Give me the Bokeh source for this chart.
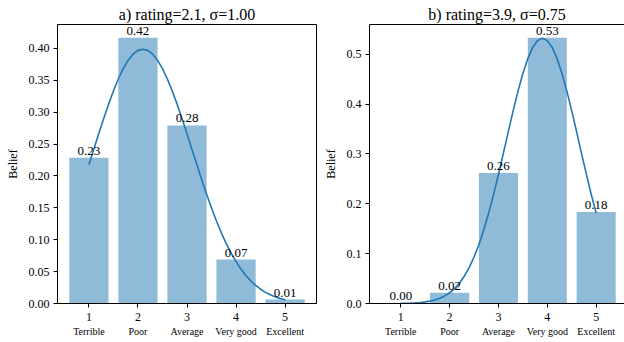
from bokeh.plotting import figure
from bokeh.layouts import row
from bokeh.models import LinearAxis, FixedTicker, PrintfTickFormatter, Range1d
from bokeh.core.properties import value
from bokeh.embed import file_html
from bokeh.resources import INLINE

# ---- data ----
ratings = [1, 2, 3, 4, 5]
rating_names = ["Terrible", "Poor", "Average", "Very good", "Excellent"]

title_a = "a) rating=2.1, \u03c3=1.00"
beliefs_a = [0.2287, 0.4168, 0.2793, 0.0689, 0.0062]

title_b = "b) rating=3.9, \u03c3=0.75"
beliefs_b = [0.0003, 0.0217, 0.2617, 0.5329, 0.1834]

curve_x = [1.0, 1.1, 1.2, 1.3, 1.4, 1.5, 1.6, 1.7, 1.8, 1.9,
           2.0, 2.1, 2.2, 2.3, 2.4, 2.5, 2.6, 2.7, 2.8, 2.9,
           3.0, 3.1, 3.2, 3.3, 3.4, 3.5, 3.6, 3.7, 3.8, 3.9,
           4.0, 4.1, 4.2, 4.3, 4.4, 4.5, 4.6, 4.7, 4.8, 4.9, 5.0]
curve_a = [0.2179, 0.2420, 0.2661, 0.2897, 0.3123, 0.3332, 0.3521, 0.3683, 0.3814, 0.3910,
           0.3970, 0.3989, 0.3970, 0.3910, 0.3814, 0.3683, 0.3521, 0.3332, 0.3123, 0.2897,
           0.2661, 0.2420, 0.2179, 0.1942, 0.1714, 0.1497, 0.1295, 0.1109, 0.0940, 0.0790,
           0.0656, 0.0540, 0.0440, 0.0355, 0.0283, 0.0224, 0.0175, 0.0136, 0.0104, 0.0079, 0.0060]
curve_b = [0.0003, 0.0005, 0.0008, 0.0013, 0.0021, 0.0032, 0.0048, 0.0072, 0.0106, 0.0152,
           0.0215, 0.0299, 0.0407, 0.0546, 0.0720, 0.0932, 0.1184, 0.1479, 0.1814, 0.2187,
           0.2589, 0.3011, 0.3441, 0.3863, 0.4259, 0.4614, 0.4910, 0.5133, 0.5272, 0.5319,
           0.5272, 0.5133, 0.4910, 0.4614, 0.4259, 0.3863, 0.3441, 0.3011, 0.2589, 0.2187, 0.1814]

yticks_a = [0.0, 0.05, 0.10, 0.15, 0.20, 0.25, 0.30, 0.35, 0.40]
yticks_b = [0.0, 0.1, 0.2, 0.3, 0.4, 0.5]

FONT = "Liberation Serif"
BAR = "#1f77b4"


def panel(title, vals, curve, y_end, yticks, fmt, w, bl, br, x_end, outline):
    p = figure(width=w, height=342,
               x_range=Range1d(0.36, x_end), y_range=Range1d(0, y_end),
               output_backend="svg", toolbar_location=None,
               min_border_left=bl, min_border_right=br,
               min_border_top=24, min_border_bottom=39)
    p.title.text = title
    p.title.align = "center"
    p.title.text_font = FONT
    p.title.text_font_size = "16px"
    p.title.text_font_style = "normal"
    p.title.text_color = "black"
    p.title.standoff = 3
    p.grid.visible = False
    p.outline_line_color = "black" if outline else None
    p.outline_line_width = 1
    p.outline_line_alpha = 1

    p.vbar(x=ratings, top=vals, width=0.8, fill_color=BAR, fill_alpha=0.5,
           line_color=None)
    p.line(curve_x, curve, line_color=BAR, line_width=1.6)
    p.text(x=ratings, y=vals, text=[f"{v:.2f}" for v in vals],
           text_align="center", text_baseline="bottom", y_offset=-3,
           text_font=value(FONT), text_font_size="13px", text_color="black")

    for ax in (p.xaxis[0], p.yaxis[0]):
        ax.axis_line_color = "black"
        ax.major_tick_line_color = "black"
        ax.major_tick_out = 4
        ax.major_tick_in = 0
        ax.minor_tick_line_color = None
        ax.major_label_text_font = FONT
        ax.major_label_text_font_size = "12px"
        ax.major_label_text_color = "black"

    xa = p.xaxis[0]
    xa.ticker = FixedTicker(ticks=ratings)
    xa.major_label_standoff = 5

    ya = p.yaxis[0]
    ya.ticker = FixedTicker(ticks=yticks)
    ya.formatter = PrintfTickFormatter(format=fmt)
    ya.major_label_standoff = 4
    ya.axis_label = "Belief"
    ya.axis_label_text_font = FONT
    ya.axis_label_text_font_size = "12px"
    ya.axis_label_text_font_style = "normal"
    ya.axis_label_text_color = "black"
    ya.axis_label_standoff = 6

    names_axis = LinearAxis(ticker=FixedTicker(ticks=ratings),
                            major_label_overrides={r: n for r, n in zip(ratings, rating_names)})
    names_axis.axis_line_color = None
    names_axis.major_tick_line_color = None
    names_axis.minor_tick_line_color = None
    names_axis.major_tick_out = 0
    names_axis.major_tick_in = 0
    names_axis.major_label_standoff = 2
    names_axis.major_label_text_font = FONT
    names_axis.major_label_text_font_size = "10px"
    names_axis.major_label_text_color = "black"
    p.add_layout(names_axis, "below")

    if not outline:
        top = LinearAxis(ticker=FixedTicker(ticks=[]))
        top.axis_line_color = "black"
        top.major_label_text_font_size = "0px"
        top.major_tick_line_color = None
        top.minor_tick_line_color = None
        top.major_label_standoff = 0
        p.add_layout(top, "above")
    return p


p1 = panel(title_a, beliefs_a, curve_a, 0.4376, yticks_a, "%.2f",
           320, 57, 4, 5.64, True)
p2 = panel(title_b, beliefs_b, curve_b, 0.5595, yticks_b, "%.1f",
           304, 48, 0, 5.58, False)

layout = row(p1, p2)
open("out.html", "w").write(file_html(layout, INLINE))
